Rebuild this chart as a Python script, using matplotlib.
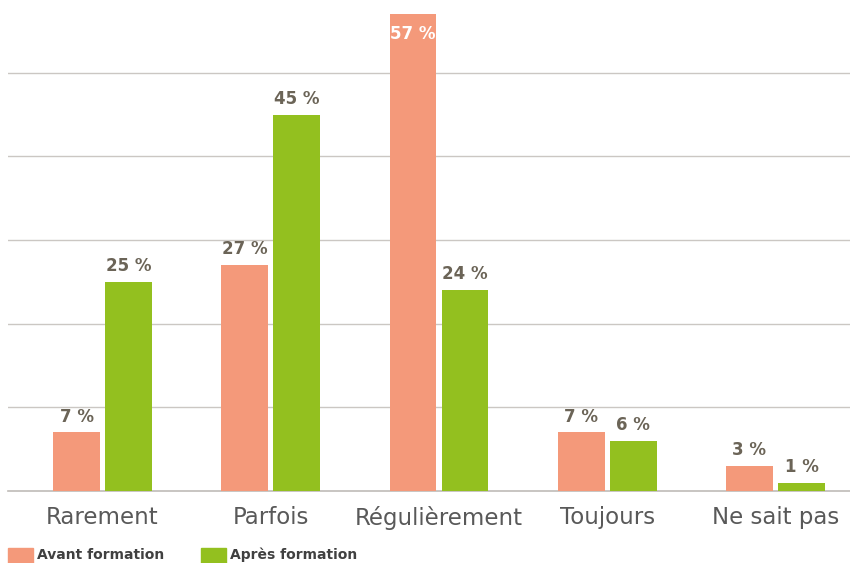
import matplotlib
matplotlib.use("Agg")
import matplotlib.pyplot as plt
from matplotlib.patches import Rectangle
import numpy as np

categories = ["Rarement", "Parfois", "Régulièrement", "Toujours", "Ne sait pas"]
avant = [7, 27, 57, 7, 3]
apres = [25, 45, 24, 6, 1]
series_names = ["Avant formation", "Après formation"]

c_avant = "#F4997A"
c_apres = "#93C01F"
lab_col = "#6B6457"
txt_col = "#595959"

plt.rcParams['font.family'] = ['DejaVu Sans']

fig = plt.figure(figsize=(8.5, 5.63), dpi=100)
ax = fig.add_axes([8/850, 72/563, 842/850, 491/563])

x = np.arange(len(categories))
w = 0.279
off = 0.1545
b1 = ax.bar(x - off, avant, w, color=c_avant, zorder=3)
b2 = ax.bar(x + off, apres, w, color=c_apres, zorder=3)

ax.set_xlim(-0.562, 4.443)
ax.set_ylim(0, 58.7)
ax.set_yticks([10, 20, 30, 40, 50])
ax.yaxis.grid(True, color="#CBC7C3", linewidth=1.0, zorder=0)
ax.tick_params(axis='y', left=False, labelleft=False)
ax.tick_params(axis='x', bottom=False, pad=7, labelsize=16.5, labelcolor=txt_col)
ax.set_xticks(x)
ax.set_xticklabels(categories)
for s in ["top", "right", "left"]:
    ax.spines[s].set_visible(False)
ax.spines["bottom"].set_color("#BFBBB7")
ax.spines["bottom"].set_linewidth(1.2)

for bars, vals in ((b1, avant), (b2, apres)):
    for rect, v in zip(bars, vals):
        cx = rect.get_x() + rect.get_width() / 2
        if v > 50:
            ax.annotate(f"{v} %", (cx, v), xytext=(0, -8), textcoords="offset points",
                        ha="center", va="top", color="white", fontsize=12,
                        fontweight="bold", zorder=4)
        else:
            ax.annotate(f"{v} %", (cx, v), xytext=(0, 5), textcoords="offset points",
                        ha="center", va="bottom", color=lab_col, fontsize=12,
                        fontweight="bold", zorder=4)

# legend
for x0, col, name in ((8, c_avant, series_names[0]), (201, c_apres, series_names[1])):
    fig.patches.append(Rectangle((x0/850, -5/563), 25/850, 20/563,
                                 transform=fig.transFigure, color=col, figure=fig))
    fig.text((x0 + 29)/850, 1/563, name, transform=fig.transFigure,
             fontsize=10, fontweight="bold", color="#404040", ha="left", va="bottom")

fig.savefig("out.png", dpi=100)
